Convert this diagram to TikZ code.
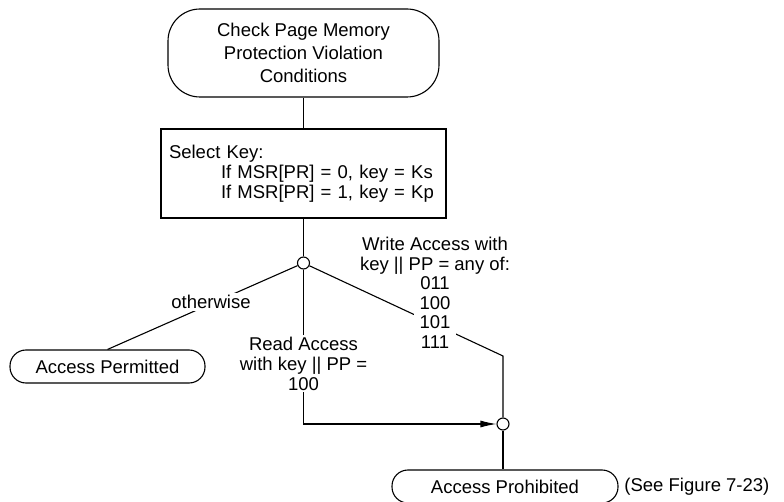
\documentclass[tikz,border=0pt]{standalone}
\usepackage{fontspec}
\setmainfont{Liberation Sans}
\usetikzlibrary{positioning,arrows.meta}

\begin{document}
\begin{tikzpicture}[x=1pt, y=-1pt, line width=1.1pt,
  every node/.style={align=center, font=\fontsize{18.5}{20}\selectfont},
  endbox/.style={draw, rectangle, rounded corners=16pt, minimum height=33pt},
  joint/.style={draw, circle, fill=white, minimum size=12pt, inner sep=0pt},
  cond/.style={fill=white, inner sep=2pt}]

\useasboundingbox (0,0) rectangle (784,502);

% Nodes
\node (check) [draw, rectangle, rounded corners=32pt, minimum width=271pt, minimum height=88pt, font=\fontsize{18.5}{23}\selectfont] at (303.5,53) {Check Page Memory\\Protection Violation\\Conditions};
\node (select) [draw, rectangle, minimum width=285pt, minimum height=89pt, align=left, text width=269pt, inner sep=8pt] at (303.5,173.5) {Select Key:\\\hspace*{52pt}If MSR[PR] = 0, key = Ks\\\hspace*{52pt}If MSR[PR] = 1, key = Kp};
\node (fork) [joint] at (303.5,263) {};
\node (permitted) [endbox, minimum width=195pt] at (107.5,366.5) {Access Permitted};
\node (join) [joint] at (503,424) {};
\node (prohibited) [endbox, minimum width=226pt] at (505,486.5) {Access Prohibited};
\node (seefig) [right=2pt of prohibited] {(See Figure 7-23)};
\coordinate (wbend) at (503,356);

% Arrows
\draw (check) -- (select);
\draw (select) -- (fork);
\draw (fork) -- (permitted.north);
\draw (fork) -- (wbend) -- (join);
\draw[-{Latex[length=16pt,width=7pt]}] (fork) |- (join);
\draw (join) -- (join |- prohibited.north);

% Labels
\node (otherwiselbl) [cond] at (211,302) {otherwise};
\node (readlbl) [cond] at (303.5,363.5) {Read Access\\with key || PP =\\100};
\node (writelbl) at (435,255.5) {Write Access with\\key || PP = any of:};
\node (writecodes) [cond, inner xsep=6pt, font=\fontsize{18.5}{19.5}\selectfont] at (435,312.5) {011\\100\\101\\111};

\end{tikzpicture}
\end{document}
